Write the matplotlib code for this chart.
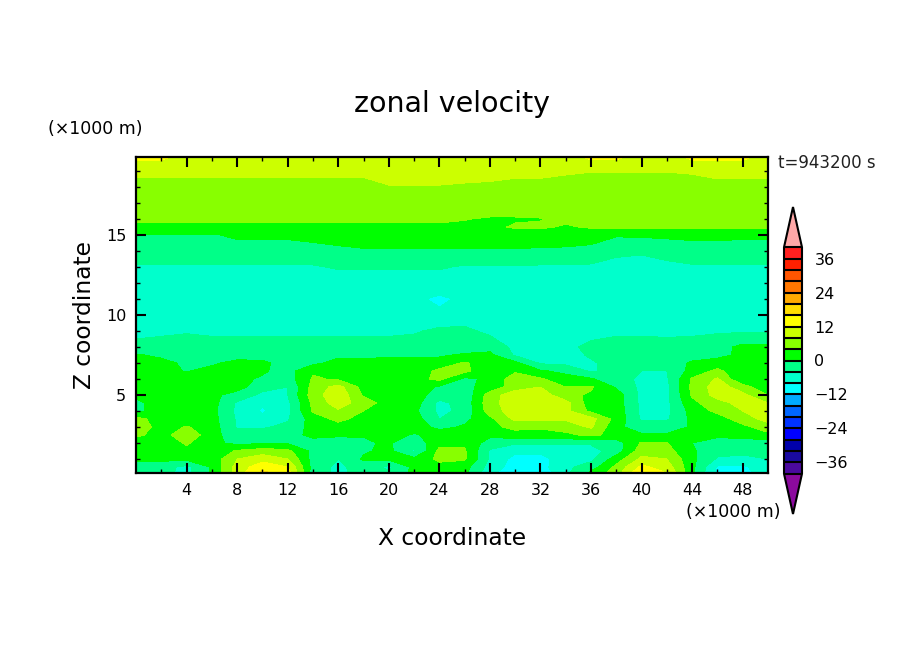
import matplotlib
matplotlib.use('Agg')
import matplotlib.pyplot as plt
import numpy as np
from matplotlib.colors import ListedColormap, BoundaryNorm

x_km = list(range(0, 51, 2))
z_km = [0.125, 0.5, 1, 1.5, 2, 2.5, 3, 3.5, 4, 4.5, 5, 5.5, 6, 6.5, 7, 7.5, 8,
        9, 10, 11, 12, 13, 14, 15, 15.5, 16, 16.5, 17, 18, 19, 19.875]

# zonal velocity, one row per height
u_rows = [
    [-2, -3, -5, 0.5, 10, 17, 14, -2, -5, -2.5, -3, 1, 1, 1, -7, -11, -10.5, -5, 1, 6, 16, 12, 1, -9, -10, -5],
    [-1, -2.5, -5, 0.5, 9.5, 14.5, 12, -1.5, -5, -2, -5, 1, 2.5, 1.5, -5.5, -10, -9.5, -5, -2, 5, 13, 10, 1, -8.5, -9, -4.5],
    [0.5, 1, 1, 1.5, 8, 10.5, 8, -1.5, -4, 0.5, 1, 1, 5, 4.5, -4.5, -9.5, -9.5, -5.5, -5, 2, 9, 8, 1, -4.5, -5, -4],
    [2, 1.5, 3, 1, 4.5, 6, 5, -1, -1.5, -0.5, 1, -4.5, 5, 4.5, -4.5, -7, -7, -5.5, -5.5, -2, 6, 5.5, 0.5, -2.5, -3, -3],
    [1.5, 1.5, 4.5, 1, -1, -0.5, -0.5, -1.5, -1, -0.5, 0.5, -3, 3, 3.5, -2, -3.5, -3.5, -3.5, -3.5, -2, 4.5, 4.2, 0, -2, -2, -2],
    [5, 2, 7, 1.5, -2.5, -2, -1.5, 1, 0.3, 0.2, 2, -0.5, 2, 1, 1, 2.5, 2.5, 3, 5, 2.5, 0.5, 0.5, 0.5, 1, 1.5, 3],
    [7, 2, 4.3, 2, -4.5, -4.5, -3, 1.5, 2.5, 2, 2, 2, -1, 0.5, 3, 5, 4.5, 6, 8.5, 1, -2, -2, 0.5, 1, 3, 6],
    [5.5, 2, 1.5, 1.5, -4.5, -7, -4.5, 2, 5, 2.5, 2, 2, -4, -1, 3, 9, 9, 8.5, 9.5, 2.5, -4.5, -4.5, 1, 2, 6, 9.5],
    [-1, 2, 1, 1.5, -5, -8.5, -5, 4.5, 7.5, 4, 2, 1, -5, -3, 6, 10, 10.5, 9, 3, 2.5, -5, -5, 1.5, 5, 8, 10],
    [-1, 2, 1.5, 1.5, -4.5, -7.5, -5, 5, 10, 6, 2, 2, -5, -2.5, 6.5, 10.5, 10.5, 9.5, 1.5, 2, -5, -5, 3, 6.5, 9.5, 8],
    [1, 2, 2, 1, -1.5, -5, -4, 6, 11, 3.5, 2, 2, -2, -3, 6, 10.5, 10.5, 5, 3.5, 2, -5, -5, 4.5, 9.5, 9, 4],
    [1, 2, 2, 1.5, 1.5, -2.5, -4, 5.5, 9.5, 2.5, 2, 2, -0.5, -1, 1.5, 6, 8, 4, 4.5, -0.5, -5, -5, 5, 10, 6, 0.5],
    [1, 1.5, 1.5, 1.5, 1, -0.5, -2, 4.5, 3.5, 2, 2, 2.5, 5, -1, 1, 6, 4.5, 1.5, 0.5, -3, -4.5, -4.5, 4.5, 8.5, 0, 1],
    [1.5, 1, -0.2, 1, 1, 0.5, -1.5, 3.5, 2, 1.5, 1.5, 1.5, 5, 5, 1, 3.5, 0.5, -1, -4.5, -2.5, -4, -4, 1.5, 5, 1, 1],
    [1.5, 1.5, -1, -0.5, 1, 1, -2, -1, 1.5, 1.5, 1.5, 1.5, 1.5, 4.5, 1.5, 1, -4.5, -5, -4.5, -2.5, -1, -2, 0.5, 1.5, 1.5, 1],
    [0.5, -1, -1, -0.5, -1.5, -2, -2, -2, -1, -1, -0.8, -0.8, -0.5, 0.5, 1, -4.5, -5, -5.5, -3.5, -2, -2, -2, -1.5, -1, 0.8, 0.8],
    [-3, -2, -1.5, -2, -2, -2, -2, -2, -2, -2, -2, -2, -2, -2, -1.5, -5, -5.5, -5, -3, -2, -2, -2.5, -2, -1.5, 1, 1],
    [-5, -5, -4.5, -5, -5, -5, -5, -5, -5, -5, -5, -4.5, -3, -3, -5, -6, -6, -6, -5.5, -5, -5, -5, -5, -4.5, -4.5, -4.5],
    [-6, -6, -6, -6, -6, -6, -6, -6, -6, -6, -6, -6.5, -7.5, -6.5, -6, -6, -6.5, -6.5, -6.5, -6, -6, -6, -6, -6, -6, -6],
    [-7, -7, -7, -7, -7, -7, -7, -7, -7, -7, -7, -7.5, -8.5, -7.5, -7, -7, -7, -7, -7, -7, -7, -7, -7, -7, -7, -7],
    [-6.5, -6.5, -6.5, -6.5, -6.5, -6.5, -6.5, -6.5, -6.5, -6.5, -6.5, -6.5, -6.5, -6.5, -6.5, -6.5, -6.5, -6.5, -6.5, -7, -7, -6.5, -6.5, -6.5, -6.5, -6.5],
    [-4.5, -4.5, -4.5, -4.5, -4.5, -4.5, -4.5, -4.5, -3.5, -3.5, -3.5, -3.5, -3.5, -4.5, -4.5, -4.5, -4.5, -4.5, -4.7, -5.5, -5.5, -5, -4.5, -4.5, -4.5, -4.5],
    [-1.5, -1.5, -1.5, -1, -1, -1, -1, -0.7, -0.5, -0.4, -0.4, -0.4, -0.4, -0.4, -0.4, -0.4, -0.5, -0.7, -1, -3, -3.5, -2.5, -1.5, -1.5, -1.5, -1.5],
    [-0.2, -0.2, -0.2, -0.2, 0.4, 0.4, 0.4, 0.6, 1, 2, 2, 2, 2, 2, 2, 2, 2, 2, 1.5, 0.4, 0.6, 0.8, 0.8, 0.8, 0.6, 0.6],
    [3, 3, 3, 3, 3, 3, 3, 3, 3, 3, 3, 3, 3, 3, 3, 4.5, 4.6, 3.5, 4.5, 4.6, 4.6, 4.6, 4.6, 4.6, 4.6, 4.6],
    [5, 5, 5, 5, 5, 5, 5, 5, 5, 5, 5, 5, 5, 4.2, 3.5, 3.5, 3.8, 5, 5, 5, 5, 5, 5, 5, 5, 5],
    [5.5, 5.5, 5.5, 5.5, 5.5, 5.5, 5.5, 5.5, 5.5, 5.5, 5.5, 5.5, 5.5, 5.5, 5.5, 5.5, 5.5, 5.5, 5.5, 5.5, 5.5, 5.5, 5.5, 5.5, 5.5, 5.5],
    [6, 6, 6, 6, 6, 6, 6, 6, 6, 6, 6, 6, 6, 6, 6, 6, 6, 6, 6, 6, 6, 6, 6, 6, 6, 6],
    [6.5, 6.5, 6.5, 6.5, 6.5, 6.5, 6.5, 6.5, 6.5, 6.5, 7.8, 7.8, 7.8, 7.5, 7.2, 6.8, 6.8, 6.5, 5.5, 5.5, 5.5, 5.5, 6, 7, 7, 7],
    [9, 9, 9, 9, 9, 9, 9, 9, 9, 9, 9.5, 9.5, 9.5, 9.5, 9.5, 9, 9, 8.5, 8.2, 8.2, 8.2, 8.2, 8.5, 9, 9, 9],
    [13, 13, 10, 10, 10, 10, 10, 10, 10, 10, 10, 10, 10, 10, 10, 10, 10, 10, 13, 13, 10, 10, 13, 13, 13, 10],
]

levels = list(range(-40, 41, 4))
band_colors = ['#4b0a9e', '#1a0aa0', '#0000aa', '#0000ff', '#0033ff', '#0066ff', '#00aaff', '#00ffff',
               '#00ffcc', '#00ff88', '#00ff00', '#88ff00', '#ccff00', '#ffff00', '#ffdd00', '#ffaa00',
               '#ff7700', '#ff5500', '#ff2000', '#ff2020']
under_color = '#8b0a9e'
over_color = '#ffa8a8'
cbar_ticks = [-36, -24, -12, 0, 12, 24, 36]
x_ticks = list(range(4, 49, 4))
x_minor = list(range(2, 50, 2))
z_ticks = [5, 10, 15]
z_minor = list(range(1, 20))

W, H = 904, 654
fig = plt.figure(figsize=(W / 100, H / 100), dpi=100)
ax = fig.add_axes([136 / W, (H - 473) / H, (768 - 136) / W, (473 - 157) / H])

cmap = ListedColormap(band_colors)
cmap.set_under(under_color)
cmap.set_over(over_color)
norm = BoundaryNorm(levels, cmap.N)

cf = ax.contourf(x_km, z_km, np.array(u_rows), levels=levels, cmap=cmap, norm=norm, extend='both', antialiased=False)
ax.set_xlim(0, 50)
ax.set_ylim(0.125, 19.875)

ax.set_xticks(x_ticks)
ax.set_xticks(x_minor, minor=True)
ax.set_yticks(z_ticks)
ax.set_yticks(z_minor, minor=True)
ax.tick_params(which='major', direction='in', top=True, right=True, length=7.5, width=1.5, labelsize=11.5, pad=7)
ax.tick_params(which='minor', direction='in', top=True, right=True, length=3, width=1)
for s in ax.spines.values():
    s.set_linewidth(1.6)

ax.set_xlabel('X coordinate', fontsize=16.8, labelpad=21)
ax.set_ylabel('Z coordinate', fontsize=16.8, labelpad=7)

fig.text(452 / W, 1 - 104 / H, 'zonal velocity', fontsize=20.5, ha='center', va='center')
fig.text(95 / W, 1 - 129 / H, '(×1000 m)', fontsize=12.5, ha='center', va='center')
fig.text(733 / W, 1 - 512 / H, '(×1000 m)', fontsize=12.5, ha='center', va='center')
fig.text(827 / W, 1 - 163 / H, 't=943200 s', fontsize=12, ha='center', va='center', color='#222222')

# the colorbar axes holds the triangles too
cax = fig.add_axes([784 / W, (H - 514) / H, 18 / W, (514 - 207) / H])
cb = fig.colorbar(cf, cax=cax, extend='both', extendfrac=0.178, drawedges=True, ticks=cbar_ticks)
cb.ax.minorticks_off()
cb.ax.tick_params(which='both', length=0, labelsize=11.5, pad=9)
cb.outline.set_linewidth(1.5)
cb.dividers.set_linewidth(1.5)

fig.savefig('out.png', dpi=100)
